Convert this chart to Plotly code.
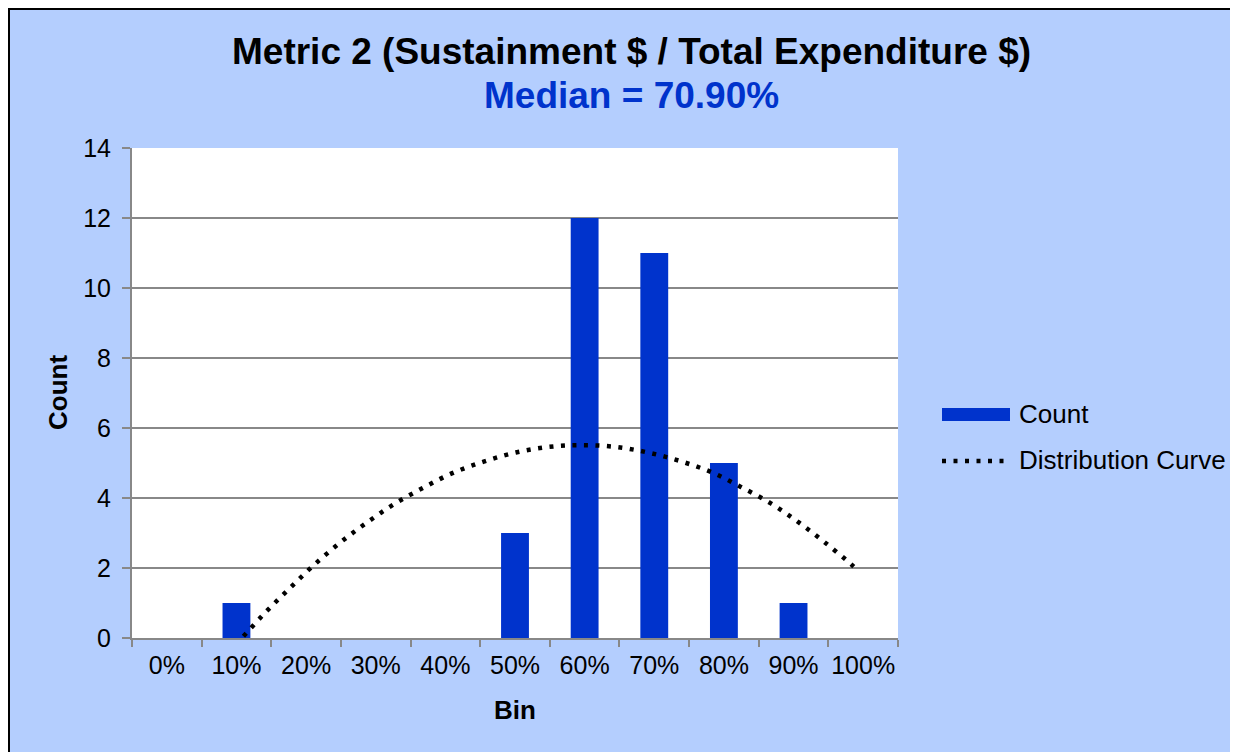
import plotly.graph_objects as go

# ---- data ----
bins = ["0%", "10%", "20%", "30%", "40%", "50%", "60%", "70%", "80%", "90%", "100%"]
counts = [0, 1, 0, 0, 0, 3, 12, 11, 5, 1, 0]

# distribution curve (x in bin-index units, y in counts)
curve_x = [1.10, 1.43, 1.77, 2.11, 2.48, 2.86, 3.26, 3.68, 4.10, 4.55, 5.01,
           5.49, 5.97, 6.44, 6.91, 7.38, 7.83, 8.25, 8.68, 9.07, 9.45, 9.82, 9.94]
curve_y = [0.05, 0.76, 1.43, 2.08, 2.71, 3.28, 3.82, 4.29, 4.71, 5.04, 5.30,
           5.46, 5.51, 5.46, 5.30, 5.05, 4.73, 4.31, 3.84, 3.31, 2.73, 2.12, 1.90]

title_line1 = "Metric 2 (Sustainment $ / Total Expenditure $)"
title_line2 = "Median = 70.90%"

BG = "#B4CEFE"
BLUE = "#0033CC"
GRID = "#888888"
FONT = "Liberation Sans, Arial, sans-serif"

W, H = 1230, 744
L, T = 124, 140
PW, PH = 766, 490
R, B = W - L - PW, H - T - PH


def px(x):
    return (x - L) / PW


def py(y):
    return (T + PH - y) / PH


fig = go.Figure()
fig.add_trace(go.Bar(x=bins, y=counts, marker=dict(color=BLUE, line=dict(width=0)),
                     width=0.4, name="Count", showlegend=False))
fig.add_trace(go.Scatter(x=curve_x, y=curve_y, xaxis="x2", mode="lines",
                         line=dict(color="black", width=4.5, dash="4px,7.5px", shape="spline"),
                         name="Distribution Curve", showlegend=False))

fig.update_layout(
    width=W, height=H,
    margin=dict(l=L, r=R, t=T, b=B),
    paper_bgcolor=BG, plot_bgcolor="white",
    font=dict(family=FONT, size=25, color="black"),
    bargap=0.6,
    xaxis=dict(type="category", range=[-0.5, 10.5], tickson="boundaries",
               ticks="outside", ticklen=7, tickwidth=2, tickcolor=GRID,
               showline=True, linecolor=GRID, linewidth=2, showgrid=False,
               tickfont=dict(size=25), tickangle=0, ticklabelstandoff=4),
    xaxis2=dict(overlaying="x", range=[-0.5, 10.5], visible=False),
    yaxis=dict(range=[0, 14], dtick=2, ticks="outside", ticklen=8, tickwidth=2,
               tickcolor=GRID, showline=True, linecolor=GRID, linewidth=2,
               showgrid=True, gridcolor=GRID, gridwidth=2, zeroline=False,
               tickfont=dict(size=25), ticklabelstandoff=6),
)

ann = [
    dict(text="<b>" + title_line1 + "</b>", x=px(623.5), y=py(43),
         font=dict(size=37, color="black")),
    dict(text="<b>" + title_line2 + "</b>", x=px(623.5), y=py(87),
         font=dict(size=37, color=BLUE)),
    dict(text="<b>Count</b>", x=px(50), y=0.5, textangle=-90, font=dict(size=26)),
    dict(text="<b>Bin</b>", x=0.5, y=py(702), font=dict(size=26)),
    dict(text="Count", x=px(1009), y=py(406), xanchor="left", font=dict(size=26)),
    dict(text="Distribution Curve", x=px(1009), y=py(452), xanchor="left", font=dict(size=26)),
]
for a in ann:
    a.setdefault("xanchor", "center")
    a.update(xref="paper", yref="paper", yanchor="middle", showarrow=False)
fig.update_layout(annotations=ann)

shapes = [
    # outer border (top and left edges)
    dict(type="line", xref="paper", yref="paper", x0=px(0), x1=px(W), y0=py(1), y1=py(1),
         line=dict(color="black", width=2), layer="above"),
    dict(type="line", xref="paper", yref="paper", x0=px(1), x1=px(1), y0=py(0), y1=py(H),
         line=dict(color="black", width=2), layer="above"),
    # legend symbols
    dict(type="rect", xref="paper", yref="paper", x0=px(934), x1=px(1002), y0=py(413), y1=py(400),
         line=dict(width=0), fillcolor=BLUE),
    dict(type="line", xref="paper", yref="paper", x0=px(934), x1=px(1003), y0=py(453), y1=py(453),
         line=dict(color="black", width=4.5, dash="4px,7.5px")),
]
fig.update_layout(shapes=shapes)

fig.write_html("out.html")
